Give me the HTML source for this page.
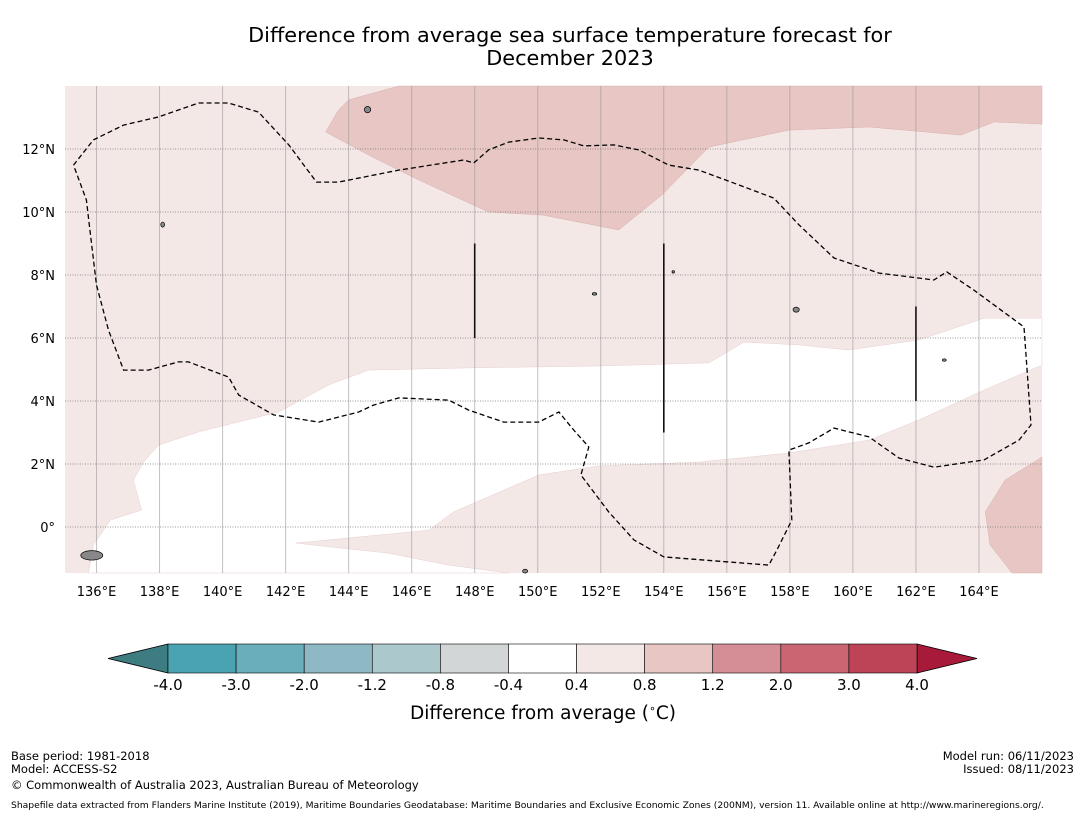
<!DOCTYPE html>
<html><head><meta charset="utf-8"><style>
body{margin:0;background:#fff;}
svg{display:block;font-family:"DejaVu Sans","Liberation Sans",sans-serif;}
</style></head><body>
<svg width="1085" height="816" viewBox="0 0 1085 816">
<text x="570" y="42" font-size="20.8" text-anchor="middle">Difference from average sea surface temperature forecast for</text>
<text x="570" y="65" font-size="20.8" text-anchor="middle">December 2023</text>
<g id="map"></g>
<g id="axes"></g>
<g id="cbar"></g>
<text x="543" y="719" font-size="18.5" text-anchor="middle">Difference from average (<tspan font-size="11" dy="-7">∘</tspan><tspan dy="7">C)</tspan></text>
<g font-size="11.5">
<text x="11" y="760">Base period: 1981-2018</text>
<text x="11" y="773">Model: ACCESS-S2</text>
<text x="11" y="789">© Commonwealth of Australia 2023, Australian Bureau of Meteorology</text>
<text x="1074" y="760" text-anchor="end">Model run: 06/11/2023</text>
<text x="1074" y="773" text-anchor="end">Issued: 08/11/2023</text>
<text x="11" y="808" font-size="9.2">Shapefile data extracted from Flanders Marine Institute (2019), Maritime Boundaries Geodatabase: Maritime Boundaries and Exclusive Economic Zones (200NM), version 11. Available online at http://www.marineregions.org/.</text>
</g>
</svg>
<script>
const lonTicks=[136,138,140,142,144,146,148,150,152,154,156,158,160,162,164];
const latTicks=[0,2,4,6,8,10,12];
const cbarBounds=[-4.0,-3.0,-2.0,-1.2,-0.8,-0.4,0.4,0.8,1.2,2.0,3.0,4.0];
const cbarColors=["#4aa3b1","#6aaebb","#8db8c4","#abc8cd","#d3d6d7","#ffffff","#f4e8e7","#e7c6c3","#d68e96","#c96672","#bd4456"];
const warmZone=[[144.0,13.56],[145.59,14],[166,14],[166,12.79],[164.48,12.86],[163.43,12.44],[160.51,12.70],[157.97,12.60],[155.43,12.06],[153.94,10.54],[152.57,9.43],[150.19,9.90],[148.44,10.0],[146.22,11.02],[144.63,11.81],[143.27,12.54],[143.68,13.24]];
const warmZone2=[[166,2.22],[164.83,1.49],[164.2,0.48],[164.35,-0.57],[165.05,-1.46],[166,-1.46]];
const neutralZone=[[137.17,1.49],[137.49,2.06],[137.97,2.60],[139.24,3.02],[141.78,3.65],[143.37,4.51],[144.63,4.98],[147.81,5.05],[151.94,5.11],[155.43,5.21],[156.54,5.87],[158.29,5.78],[159.87,5.62],[162.10,5.94],[164.16,6.63],[166,6.63],[166,5.14],[164.16,4.35],[162.10,3.40],[160.51,2.76],[157.97,2.35],[155.11,2.06],[151.94,1.94],[150.03,1.65],[147.33,0.48],[146.54,-0.10],[142.32,-0.51],[145.27,-0.83],[147.17,-1.21],[149.08,-1.46],[135.75,-1.46],[135.9,-0.57],[136.44,0.22],[137.43,0.54]];
const contour=[[135.27,11.49],[135.90,12.29],[136.86,12.76],[137.97,13.02],[139.24,13.46],[140.19,13.46],[141.14,13.17],[142.10,12.13],[142.98,10.95],[143.68,10.95],[145.59,11.33],[147.65,11.65],[147.97,11.56],[148.44,11.97],[149.08,12.22],[150.03,12.35],[150.83,12.29],[151.46,12.10],[152.41,12.13],[153.21,11.97],[154.16,11.49],[155.11,11.33],[156.38,10.86],[157.49,10.44],[158.29,9.59],[159.40,8.54],[160.83,8.06],[162.57,7.84],[162.98,8.10],[163.84,7.52],[165.43,6.35],[165.65,3.24],[165.27,2.76],[164.16,2.13],[162.57,1.90],[161.46,2.19],[160.51,2.86],[159.40,3.14],[158.60,2.67],[157.97,2.44],[158.06,0.22],[157.59,-0.73],[157.33,-1.21],[154.0,-0.95],[153.05,-0.41],[152.25,0.48],[151.37,1.65],[151.62,2.54],[151.14,3.08],[150.67,3.65],[150.03,3.33],[148.92,3.33],[147.81,3.71],[147.17,4.03],[145.59,4.10],[144.79,3.87],[144.32,3.65],[143.05,3.33],[141.62,3.56],[140.51,4.19],[140.19,4.76],[138.92,5.24],[138.60,5.24],[137.65,4.98],[136.86,4.98],[136.38,6.25],[136.0,7.68],[135.81,9.27],[135.68,10.38],[135.27,11.49]];
const segLon=[148,154,162];
const segLat0=[6,3,4];
const segLat1=[9,9,7];
const islands=[[135.85,-0.9,0.35,0.15],[144.6,13.25,0.1,0.1],[138.1,9.6,0.06,0.08],[158.2,6.9,0.1,0.08],[154.3,8.1,0.04,0.04],[151.8,7.4,0.07,0.04],[149.6,-1.4,0.08,0.06],[162.9,5.3,0.06,0.04]];
const NS="http://www.w3.org/2000/svg";
const X0=65,X1=1042,Y0=86,Y1=573,LON0=135,LON1=166,LAT0=-1.46,LAT1=14;
const xs=l=>X0+(l-LON0)/(LON1-LON0)*(X1-X0);
const ys=l=>Y1-(l-LAT0)/(LAT1-LAT0)*(Y1-Y0);
function mk(tag,attrs,parent){const e=document.createElementNS(NS,tag);for(const k in attrs)e.setAttribute(k,attrs[k]);parent.appendChild(e);return e;}
const pts=a=>a.map(p=>xs(p[0]).toFixed(1)+","+ys(p[1]).toFixed(1)).join(" ");
const map=document.getElementById("map");
let r=mk("rect",{x:X0,y:Y0,width:X1-X0,height:Y1-Y0,fill:"#f4e8e7"},map);


let p=mk("polygon",{points:pts(warmZone),fill:"#e7c6c3",stroke:"#d9b0ad","stroke-width":0.5},map);


p=mk("polygon",{points:pts(warmZone2),fill:"#e7c6c3",stroke:"#d9b0ad","stroke-width":0.5},map);


p=mk("polygon",{points:pts(neutralZone),fill:"#ffffff",stroke:"#e6d0ce","stroke-width":0.5},map);


lonTicks.forEach(l=>{const g=mk("line",{x1:xs(l),x2:xs(l),y1:Y0,y2:Y1,stroke:"#999",opacity:0.6,"stroke-width":1},map);

});
latTicks.forEach(l=>{const g=mk("line",{x1:X0,x2:X1,y1:ys(l),y2:ys(l),stroke:"#777","stroke-width":0.8,"stroke-dasharray":"1,1.5"},map);

});
islands.forEach(i=>{const e=mk("ellipse",{cx:xs(i[0]),cy:ys(i[1]),rx:i[2]*31.5,ry:i[3]*31.5,fill:"#888",stroke:"#000","stroke-width":0.7},map);

});
p=mk("polyline",{points:pts(contour),fill:"none",stroke:"#000","stroke-width":1.3,"stroke-dasharray":"5,3"},map);


segLon.forEach((l,i)=>{const s=mk("line",{x1:xs(l),x2:xs(l),y1:ys(segLat0[i]),y2:ys(segLat1[i]),stroke:"#111","stroke-width":1.6},map);

});
const ax=document.getElementById("axes");
lonTicks.forEach(l=>{const t=mk("text",{x:xs(l),y:596,"font-size":13,"text-anchor":"middle"},ax);t.textContent=l+"°E";

});
latTicks.forEach(l=>{const t=mk("text",{x:55,y:ys(l)+5,"font-size":13,"text-anchor":"end"},ax);t.textContent=l===0?"0°":l+"°N";

});
const cb=document.getElementById("cbar");
const CX0=168,CX1=917,CY=644,CH=29,n=cbarColors.length,w=(CX1-CX0)/n;
let tr=mk("polygon",{points:`${CX0},${CY} ${108},${CY+CH/2} ${CX0},${CY+CH}`,fill:"#3d7d82",stroke:"#000","stroke-width":0.8},cb);


tr=mk("polygon",{points:`${CX1},${CY} ${977},${CY+CH/2} ${CX1},${CY+CH}`,fill:"#a81a3a",stroke:"#000","stroke-width":0.8},cb);


cbarColors.forEach((c,i)=>{const b=mk("rect",{x:CX0+i*w,y:CY,width:w,height:CH,fill:c,stroke:"#000","stroke-width":0.6},cb);

});
cbarBounds.forEach((v,i)=>{const t=mk("text",{x:CX0+i*w,y:690,"font-size":15,"text-anchor":"middle"},cb);t.textContent=v.toFixed(1);

});
</script>
</body></html>
